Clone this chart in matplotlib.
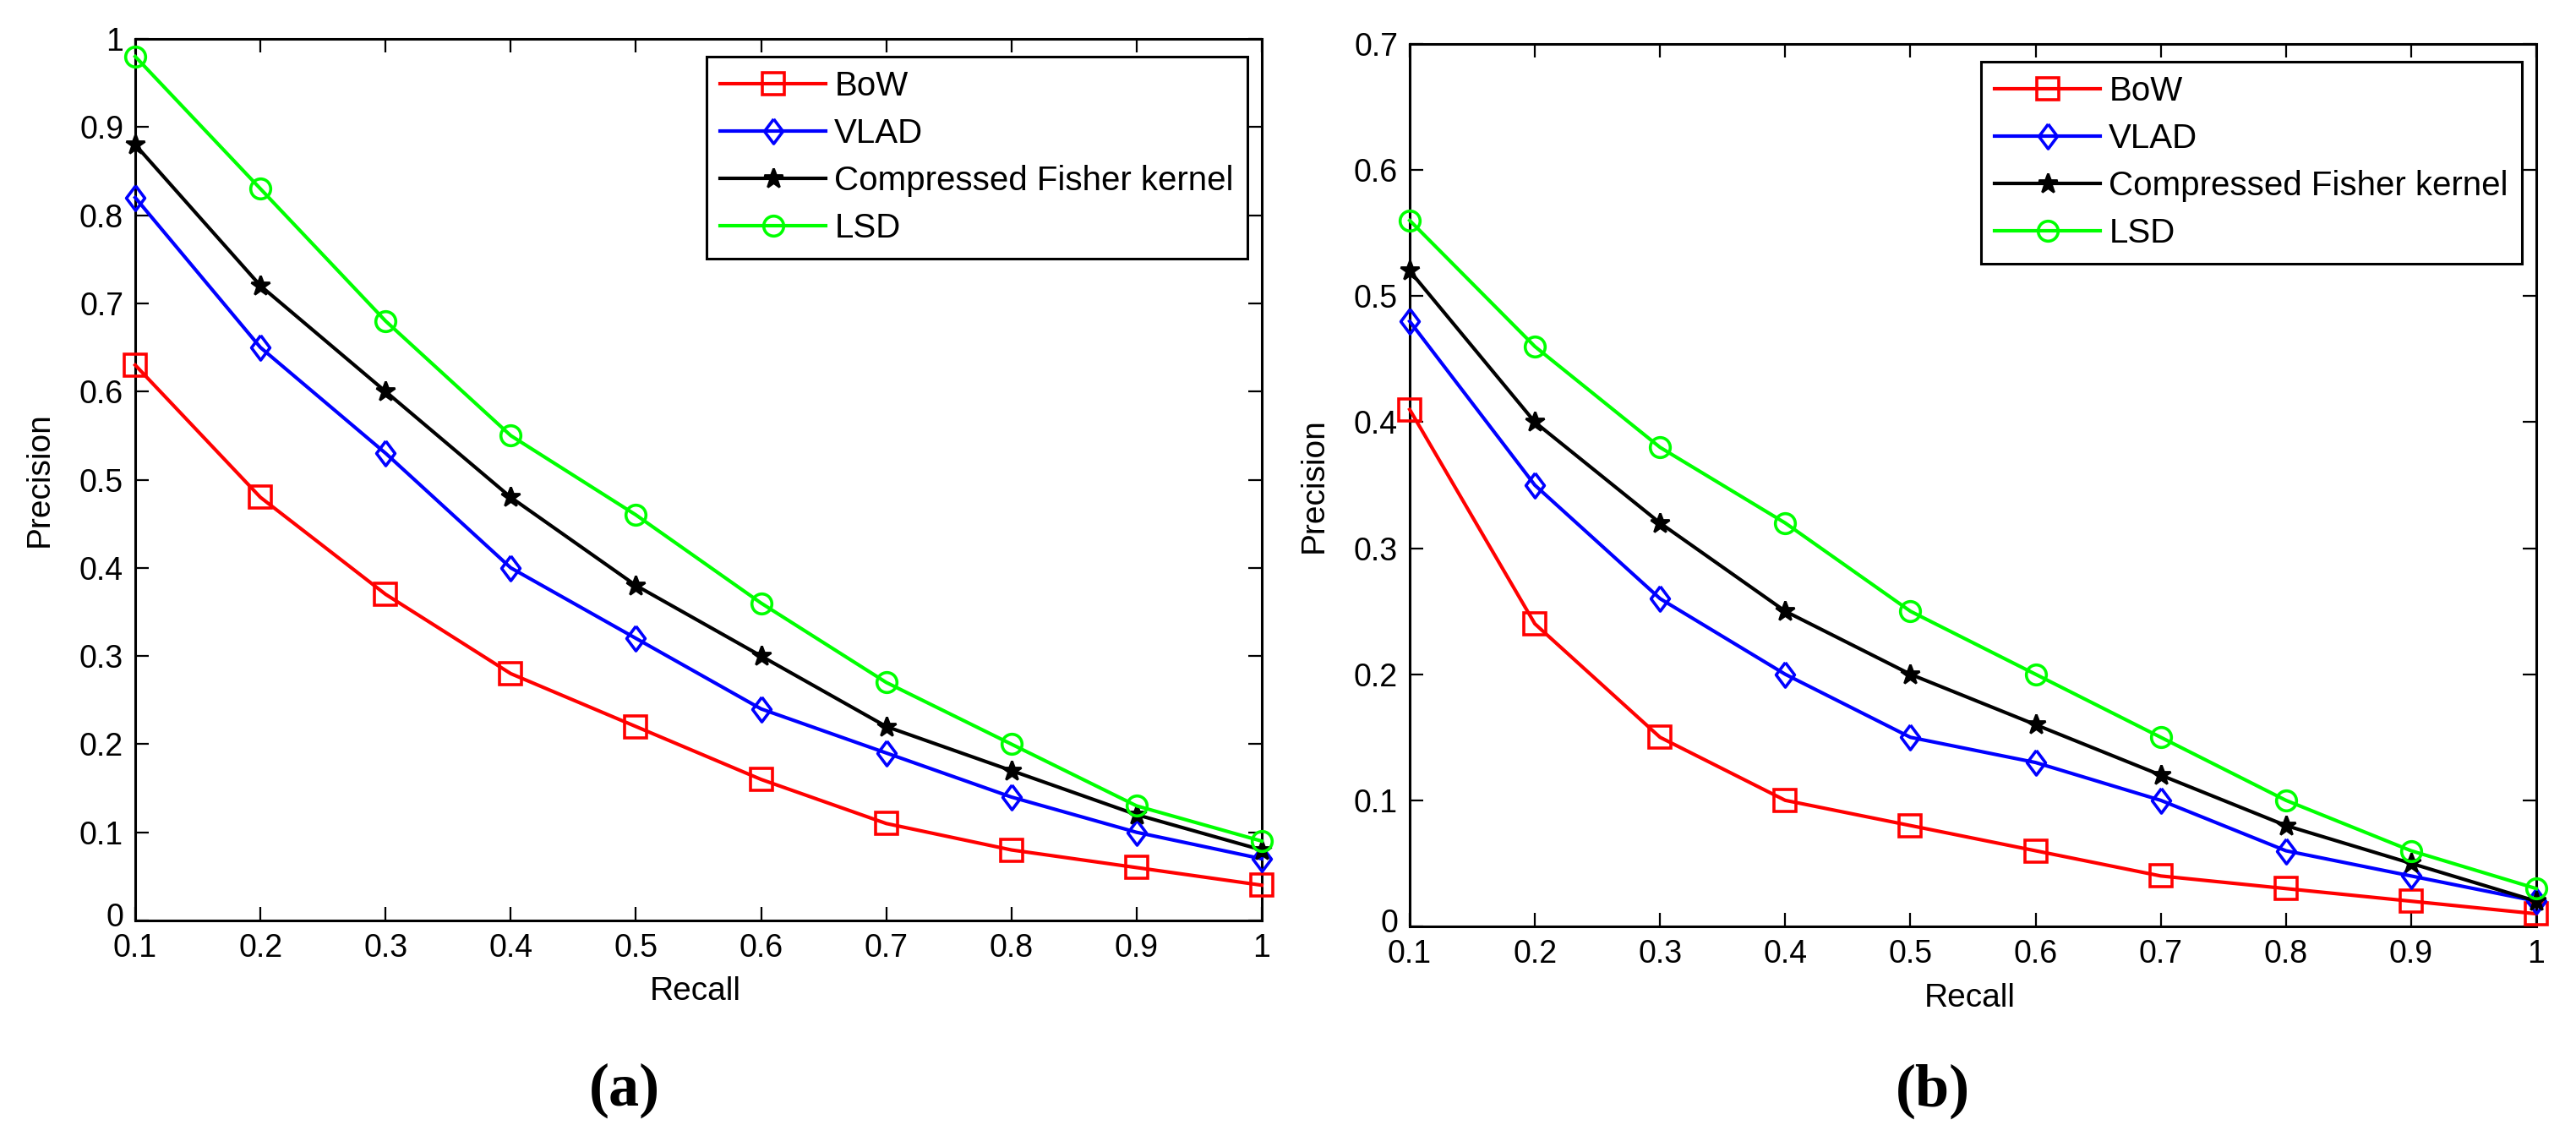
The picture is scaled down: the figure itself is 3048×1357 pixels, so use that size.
import matplotlib
matplotlib.use("Agg")
import matplotlib.pyplot as plt
from matplotlib.transforms import ScaledTranslation

plt.rcParams['font.family'] = ['Liberation Sans', 'DejaVu Sans']

# ---------------- data ----------------
recall = [0.1, 0.2, 0.3, 0.4, 0.5, 0.6, 0.7, 0.8, 0.9, 1.0]
series_names = ['BoW', 'VLAD', 'Compressed Fisher kernel', 'LSD']

# panel (a)
bow_a = [0.63, 0.48, 0.37, 0.28, 0.22, 0.16, 0.11, 0.08, 0.06, 0.04]
vlad_a = [0.82, 0.65, 0.53, 0.40, 0.32, 0.24, 0.19, 0.14, 0.10, 0.07]
cfk_a = [0.88, 0.72, 0.60, 0.48, 0.38, 0.30, 0.22, 0.17, 0.12, 0.08]
lsd_a = [0.98, 0.83, 0.68, 0.55, 0.46, 0.36, 0.27, 0.20, 0.13, 0.09]

# panel (b)
bow_b = [0.41, 0.24, 0.15, 0.10, 0.08, 0.06, 0.04, 0.03, 0.02, 0.01]
vlad_b = [0.48, 0.35, 0.26, 0.20, 0.15, 0.13, 0.10, 0.06, 0.04, 0.02]
cfk_b = [0.52, 0.40, 0.32, 0.25, 0.20, 0.16, 0.12, 0.08, 0.05, 0.02]
lsd_b = [0.56, 0.46, 0.38, 0.32, 0.25, 0.20, 0.15, 0.10, 0.06, 0.03]

xticks = [0.1, 0.2, 0.3, 0.4, 0.5, 0.6, 0.7, 0.8, 0.9, 1.0]
xticklabels = ['0.1', '0.2', '0.3', '0.4', '0.5', '0.6', '0.7', '0.8', '0.9', '1']
yticks_a = [0, 0.1, 0.2, 0.3, 0.4, 0.5, 0.6, 0.7, 0.8, 0.9, 1.0]
yticklabels_a = ['0', '0.1', '0.2', '0.3', '0.4', '0.5', '0.6', '0.7', '0.8', '0.9', '1']
yticks_b = [0, 0.1, 0.2, 0.3, 0.4, 0.5, 0.6, 0.7]
yticklabels_b = ['0', '0.1', '0.2', '0.3', '0.4', '0.5', '0.6', '0.7']
xlabel = 'Recall'
ylabel = 'Precision'
captions = ['(a)', '(b)']

# ---------------- styles ----------------
diamond = [(0, 1), (0.75, 0), (0, -1), (-0.75, 0), (0, 1)]
styles = [
    dict(color=(1, 0, 0), marker='s', ms=19, mfc='none', mew=2.6),
    dict(color=(0, 0, 1), marker=diamond, ms=21, mfc='none', mew=2.6),
    dict(color=(0, 0, 0), marker='*', ms=17, mfc=(0, 0, 0), mew=2.0),
    dict(color=(0, 1, 0), marker='o', ms=17, mfc='none', mew=2.6),
]

W, H = 3048, 1357
fig = plt.figure(figsize=(W / 100, H / 100), dpi=100)


def px_axes(x0, y0, x1, y1):
    return fig.add_axes([x0 / W, 1 - y1 / H, (x1 - x0) / W, (y1 - y0) / H])


def draw(ax, data, yticks, yticklabels, ymax):
    for (name, ys, st) in zip(series_names, data, styles):
        ax.plot(recall, ys, label=name, lw=3.0, color=st['color'],
                marker=st['marker'], ms=st['ms'], mfc=st['mfc'],
                mec=st['color'], mew=st['mew'], clip_on=False, zorder=3)
    ax.set_xlim(0.1, 1.0)
    ax.set_ylim(0, ymax)
    ax.set_xticks(xticks)
    ax.set_xticklabels(xticklabels)
    ax.set_yticks(yticks)
    ax.set_yticklabels(yticklabels)
    ax.tick_params(direction='in', length=11.5, width=1.6, top=True, right=True,
                   labelsize=27, colors='black')
    ax.tick_params(axis='x', pad=10.5)
    ax.tick_params(axis='y', pad=10)
    for sp in ax.spines.values():
        sp.set_linewidth(2.2)
        sp.set_color('black')
    ax.set_xlabel(xlabel, fontsize=28)
    ax.set_ylabel(ylabel, fontsize=28)
    ax.xaxis.label.set_va('center')
    ax.yaxis.label.set_va('center')
    ax.xaxis.set_label_coords(0.497, -0.081)
    ax.yaxis.set_label_coords(-0.0848, 0.5)
    leg = ax.legend(loc='upper right', bbox_to_anchor=(0.9872, 0.9799),
                    borderaxespad=0, fontsize=29, frameon=True, fancybox=False,
                    edgecolor='black', framealpha=1, handlelength=3.1,
                    handletextpad=0.25, labelspacing=0.45, borderpad=0.4,
                    numpoints=1)
    leg.get_frame().set_linewidth(2.2)


ax1 = px_axes(160, 46, 1493, 1089)
draw(ax1, [bow_a, vlad_a, cfk_a, lsd_a], yticks_a, yticklabels_a, 1.0)

ax2 = px_axes(1668, 52, 3001, 1096)
draw(ax2, [bow_b, vlad_b, cfk_b, lsd_b], yticks_b, yticklabels_b, 0.7)

fig.text(739 / W, 1 - 1290 / H, captions[0], fontsize=52, fontweight='bold',
         family=['Liberation Serif', 'DejaVu Serif'], ha='center', va='center')
fig.text(2287 / W, 1 - 1291 / H, captions[1], fontsize=52, fontweight='bold',
         family=['Liberation Serif', 'DejaVu Serif'], ha='center', va='center')

# nudge the "0" y tick label up slightly so it clears the "0.1" x label
fig.canvas.draw()
for ax in (ax1, ax2):
    lab = ax.yaxis.get_major_ticks()[0].label1
    lab.set_transform(lab.get_transform() +
                      ScaledTranslation(0, 7 / 100, fig.dpi_scale_trans))

fig.savefig('out.png', dpi=100, facecolor='white')
